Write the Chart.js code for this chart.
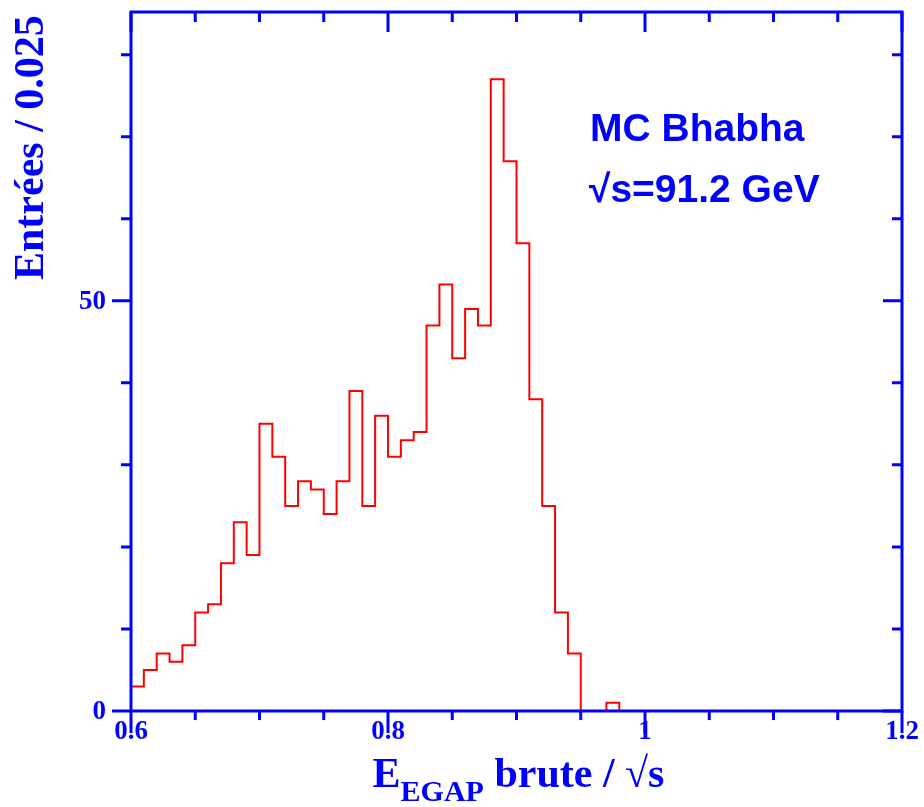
<!DOCTYPE html>
<html lang="fr">
<head>
    <meta charset="UTF-8">
    <title>MC Bhabha - E EGAP brute</title>
    <script src="https://cdn.jsdelivr.net/npm/chart.js"></script>
    <style>
        html, body { margin: 0; padding: 0; background: #fff; }
        #wrap { width: 924px; height: 807px; }
    </style>
</head>
<body>
    <div id="wrap"><canvas id="histo" width="924" height="807"></canvas></div>

    <script>
        // histogramme : bins de 0.01 entre 0.6 et 1.2
        const binStart = 0.6;
        const binWidth = 0.01;
        const counts = [
            3, 5, 7, 6, 8, 12, 13, 18, 23, 19,
            35, 31, 25, 28, 27, 24, 28, 39, 25, 36,
            31, 33, 34, 47, 52, 43, 49, 47, 77, 67,
            57, 38, 25, 12, 7, 0, 0, 1, 0, 0,
            0, 0, 0, 0, 0, 0, 0, 0, 0, 0,
            0, 0, 0, 0, 0, 0, 0, 0, 0, 0
        ];
        const xMin = 0.6, xMax = 1.2;
        const yMin = 0, yMax = 85.2;
        const xTicks = [0.6, 0.65, 0.7, 0.75, 0.8, 0.85, 0.9, 0.95, 1, 1.05, 1.1, 1.15, 1.2];
        const xLabels = ['0.6', '0.8', '1', '1.2'];
        const yTicks = [0, 10, 20, 30, 40, 50, 60, 70, 80];
        const yLabels = ['0', '50'];

        const BLUE = '#0000ff';
        const RED = '#ff0000';

        // points au bord droit de chaque bin ; stepped 'after' => palier sur tout le bin
        const points = [{ x: binStart, y: 0 }];
        counts.forEach((c, i) => points.push({ x: binStart + (i + 1) * binWidth, y: c }));

        const framePlugin = {
            id: 'frame',
            afterDatasetsDraw(chart) {
                const ctx = chart.ctx;
                const xs = chart.scales.x, ys = chart.scales.y;
                const L = xs.getPixelForValue(xMin), R = xs.getPixelForValue(xMax);
                const T = ys.getPixelForValue(yMax), B = ys.getPixelForValue(yMin);
                ctx.save();
                ctx.strokeStyle = BLUE;
                ctx.lineWidth = 3;
                ctx.strokeRect(L, T, R - L, B - T);

                // ticks x
                xTicks.forEach(v => {
                    const px = xs.getPixelForValue(v);
                    const major = xLabels.includes(String(v));
                    const len = major ? 20 : 10;
                    ctx.beginPath();
                    ctx.moveTo(px, B); ctx.lineTo(px, B + (major ? 22 : 9));
                    ctx.moveTo(px, T); ctx.lineTo(px, T + len);
                    ctx.stroke();
                });
                // ticks y
                yTicks.forEach(v => {
                    const py = ys.getPixelForValue(v);
                    const major = yLabels.includes(String(v));
                    const len = major ? 19 : 10;
                    ctx.beginPath();
                    ctx.moveTo(L, py); ctx.lineTo(L - len, py);
                    ctx.moveTo(R, py); ctx.lineTo(R - len, py);
                    ctx.stroke();
                });

                ctx.fillStyle = BLUE;
                ctx.font = 'bold 27px "Liberation Serif", "DejaVu Serif", serif';
                ctx.textAlign = 'center';
                ctx.textBaseline = 'alphabetic';
                xLabels.forEach(s => {
                    ctx.fillText(s, xs.getPixelForValue(parseFloat(s)), B + 28);
                });
                ctx.textAlign = 'right';
                ctx.textBaseline = 'middle';
                yLabels.forEach(s => {
                    ctx.fillText(s, L - 25, ys.getPixelForValue(parseFloat(s)) + 1);
                });

                // titre axe x : E_EGAP brute / √s
                const fBig = 'bold 42px "Liberation Serif", "DejaVu Serif", serif';
                const fSub = 'bold 30px "Liberation Serif", "DejaVu Serif", serif';
                ctx.textAlign = 'left';
                ctx.textBaseline = 'alphabetic';
                ctx.font = fBig;
                const wE = ctx.measureText('E').width;
                const rest = ' brute / \u221As';
                const wRest = ctx.measureText(rest).width;
                ctx.font = fSub;
                const wSub = ctx.measureText('EGAP').width;
                const total = wE + wSub + wRest;
                let x0 = (L + R) / 2 - total / 2 + 2;
                const base = 787;
                ctx.font = fBig;
                ctx.fillText('E', x0, base);
                ctx.font = fSub;
                ctx.fillText('EGAP', x0 + wE, base + 14);
                ctx.font = fBig;
                ctx.fillText(rest, x0 + wE + wSub, base);

                // titre axe y
                ctx.save();
                ctx.translate(43, 280);
                ctx.rotate(-Math.PI / 2);
                ctx.textAlign = 'left';
                ctx.fillText('Entr\u00e9es / 0.025', 0, 0);
                ctx.restore();

                // annotation
                ctx.font = 'bold 39px "Liberation Sans", Arial, sans-serif';
                ctx.fillText('MC Bhabha', 590, 141);
                ctx.fillText('\u221As=91.2 GeV', 589, 202);
                ctx.restore();
            }
        };

        new Chart(document.getElementById('histo').getContext('2d'), {
            type: 'line',
            data: {
                datasets: [{
                    data: points,
                    stepped: 'after',
                    borderColor: RED,
                    borderWidth: 2,
                    pointRadius: 0,
                    fill: false
                }]
            },
            options: {
                responsive: false,
                animation: false,
                devicePixelRatio: 1,
                layout: { padding: { left: 131, right: 22, top: 12, bottom: 96 } },
                plugins: { legend: { display: false }, tooltip: { enabled: false } },
                scales: {
                    x: { type: 'linear', min: xMin, max: xMax, display: false },
                    y: { type: 'linear', min: yMin, max: yMax, display: false }
                }
            },
            plugins: [framePlugin]
        });
    </script>
</body>
</html>
